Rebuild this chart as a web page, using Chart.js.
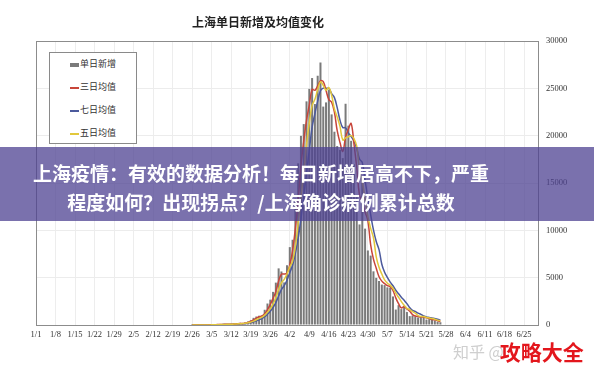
<!DOCTYPE html>
<html><head><meta charset="utf-8">
<script src="https://cdn.jsdelivr.net/npm/chart.js@4.4.1/dist/chart.umd.min.js"></script>
<style>
html,body{margin:0;padding:0;background:#fff;}
#wrap{position:relative;width:594px;height:368px;overflow:hidden;background:#fff;}
#c{position:absolute;left:0;top:0;}
#title{position:absolute;left:158px;width:200px;top:13px;text-align:center;font:bold 12px "Noto Sans CJK SC",sans-serif;color:#222;line-height:18px;}
#legend{position:absolute;left:49px;top:52px;width:86px;height:90px;border:1px solid #8a8a8a;background:#fff;font:9px "Noto Sans CJK SC",serif;color:#333;}
#legend .row{position:absolute;left:20px;height:12px;line-height:12px;white-space:nowrap;}
#legend .mk{display:inline-block;width:9px;vertical-align:middle;margin-right:1px;}
#banner{position:absolute;left:0;top:147px;width:594px;height:74px;background:rgba(78,66,146,0.75);}
#banner .txt{position:absolute;left:0;top:12px;width:522px;text-align:center;color:#fff;font:bold 19px "Noto Sans CJK SC",sans-serif;line-height:28.5px;white-space:nowrap;}
#wm{position:absolute;left:453px;top:336px;white-space:nowrap;}
#wm .zh{font:16px "Noto Sans CJK SC",sans-serif;color:#cfcfcf;vertical-align:middle;}
#wm .red{font:bold 21px "Noto Sans CJK SC",sans-serif;color:#e3161c;vertical-align:middle;margin-left:-4px;}
</style></head><body>
<div id="wrap">
<canvas id="c" width="594" height="368"></canvas>
<div id="title">上海单日新增及均值变化</div>
<div id="legend"></div>
<div id="banner"><div class="txt">上海疫情：有效的数据分析！每日新增居高不下，严重<br>程度如何？出现拐点？/上海确诊病例累计总数</div></div>
<div id="wm"><span class="zh">知乎 @</span><span class="red">攻略大全</span></div>
</div>
<script>
// categories: daily dates 1/1 .. 6/30
const monthDays = [31, 28, 31, 30, 31, 30];
const categories = [];
monthDays.forEach((n, m) => { for (let d = 1; d <= n; d++) categories.push((m + 1) + '/' + d); });

const tickLabels = ['1/1','1/8','1/15','1/22','1/29','2/5','2/12','2/19','2/26','3/5','3/12','3/19','3/26','4/2','4/9','4/16','4/23','4/30','5/7','5/14','5/21','5/28','6/4','6/11','6/18','6/25'];
const yTicks = [0, 5000, 10000, 15000, 20000, 25000, 30000];

const seriesNames = ['单日新增', '三日均值', '七日均值', '五日均值'];
const seriesStart = '2/26';

const dailyNew = [1,2,3,
 2,8,16,19,28,48,54,65,80,75,
 83,65,169,139,202,158,260,374,509,758,
 896,981,983,1609,2269,2676,3500,4477,5982,5653,4502,
 6311,8226,9006,13354,17077,19982,21222,23624,24943,26087,
 23342,26330,27719,23072,23513,24820,22248,20416,18901,18495,
 17629,23370,21058,19455,16980,13562,10622,15032,10181,7872,
 7333,5669,4982,4651,4269,4214,3975,3947,3014,1631,
 2096,1681,2035,1369,938,1000,900,800,860,870,
 570,620,530,480,340,290];

const avg3 = [0,1,2,
 2,4,9,14,21,32,43,56,66,73,
 79,74,106,124,170,166,207,264,381,547,
 721,878,953,1191,1620,2185,2815,3551,4653,5371,5379,
 5489,6346,7848,10195,13146,16804,19427,21609,23263,24885,
 24791,25253,25797,25707,24768,23802,23527,22495,20522,19271,
 18342,19831,20686,21294,19164,16666,13721,13072,11945,11028,
 8462,6958,5995,5101,4634,4378,4153,4045,3645,2864,
 2247,1803,1937,1695,1447,1102,946,900,853,843,
 767,687,573,543,450,370];

const avg7 = [0,0,1,
 1,2,5,7,11,18,25,34,44,53,
 62,67,84,97,116,127,154,195,259,343,
 451,562,680,873,1144,1453,1845,2356,3071,3738,4151,
 4729,5522,6308,7576,9161,11208,13597,16070,18458,20898,
 22325,23647,24752,25017,25001,24983,24435,24017,22956,21638,
 20860,20840,20302,19903,19413,18650,17525,17154,15270,13386,
 11655,10039,8813,7960,6422,5570,5013,4530,4150,3672,
 3307,2937,2626,2253,1823,1536,1431,1246,1129,962,
 848,803,736,676,610,529];

const avg5 = [0,1,1,
 2,3,6,10,15,24,33,43,55,64,
 71,74,94,106,132,147,186,227,301,412,
 559,704,825,1045,1348,1704,2207,2906,3781,4458,4823,
 5385,6135,6740,8280,10795,13529,16128,19052,21370,23172,
 23844,24865,25684,25310,24795,25091,24274,22814,21980,20976,
 19538,19762,19891,20001,19698,18885,16335,15130,13275,11454,
 10208,9217,7207,6101,5381,4757,4418,4211,3884,3356,
 2933,2474,2091,1762,1624,1405,1248,1001,900,886,
 800,744,690,614,508,452];

const colors = ['#7a7a7a', '#c8453a', '#4c5a9c', '#e2c83c'];

const s0 = categories.indexOf(seriesStart);
const toPts = arr => arr.map((v, i) => ({ x: categories[s0 + i], y: v }));

// HTML legend
const leg = document.getElementById('legend');
const rowTops = [5, 28, 51, 74];
seriesNames.forEach((n, i) => {
  const r = document.createElement('div');
  r.className = 'row';
  r.style.top = rowTops[i] + 'px';
  const mk = document.createElement('span');
  mk.className = 'mk';
  mk.style.height = i === 0 ? '4px' : '2px';
  mk.style.background = colors[i];
  r.appendChild(mk);
  r.appendChild(document.createTextNode(n));
  leg.appendChild(r);
});

const borderPlugin = {
  id: 'plotBorder',
  afterDraw(chart) {
    const a = chart.chartArea, c = chart.ctx;
    c.save();
    c.strokeStyle = '#8c8c8c';
    c.lineWidth = 1;
    c.strokeRect(Math.round(a.left) + 0.5, Math.round(a.top) + 0.5, Math.round(a.right - a.left), Math.round(a.bottom - a.top));
    c.restore();
  }
};

Chart.defaults.font.family = "'Liberation Serif','Noto Sans CJK SC',serif";
new Chart(document.getElementById('c'), {
  type: 'bar',
  data: {
    labels: categories,
    datasets: [
      { type: 'line', label: seriesNames[1], data: toPts(avg3), borderColor: colors[1], borderWidth: 1.5, pointRadius: 0, tension: 0.4, order: 1 },
      { type: 'line', label: seriesNames[2], data: toPts(avg7), borderColor: colors[2], borderWidth: 1.5, pointRadius: 0, tension: 0.4, order: 2 },
      { type: 'line', label: seriesNames[3], data: toPts(avg5), borderColor: colors[3], borderWidth: 1.5, pointRadius: 0, tension: 0.4, order: 0 },
      { type: 'bar', label: seriesNames[0], data: toPts(dailyNew), backgroundColor: colors[0], barPercentage: 0.72, categoryPercentage: 1, order: 5 }
    ]
  },
  options: {
    responsive: false,
    animation: false,
    devicePixelRatio: 1,
    layout: { padding: { left: 36, top: 41, right: 0, bottom: 0 } },
    plugins: { legend: { display: false }, tooltip: { enabled: false }, title: { display: false } },
    scales: {
      x: {
        offset: false,
        grid: { offset: false, drawTicks: false, color: ctx => (ctx.tick && tickLabels.includes(ctx.tick.label) ? '#ededed' : 'rgba(0,0,0,0)') },
        border: { display: false },
        ticks: {
          autoSkip: false, maxRotation: 0, minRotation: 0, padding: 5, color: '#333', font: { size: 8.5 },
          callback: function (v, i) { const l = categories[i]; return tickLabels.includes(l) ? l : ''; }
        },
        afterFit: s => { s.height = 43; }
      },
      y: {
        position: 'right', min: 0, max: 30000,
        afterBuildTicks: s => { s.ticks = yTicks.map(v => ({ value: v })); },
        grid: { drawTicks: false, color: '#ececec' },
        border: { display: false },
        ticks: { padding: 8, color: '#333', font: { size: 8.5 }, callback: v => String(v) },
        afterFit: s => { s.width = 56; }
      }
    }
  },
  plugins: [borderPlugin]
});
</script>
</body></html>
